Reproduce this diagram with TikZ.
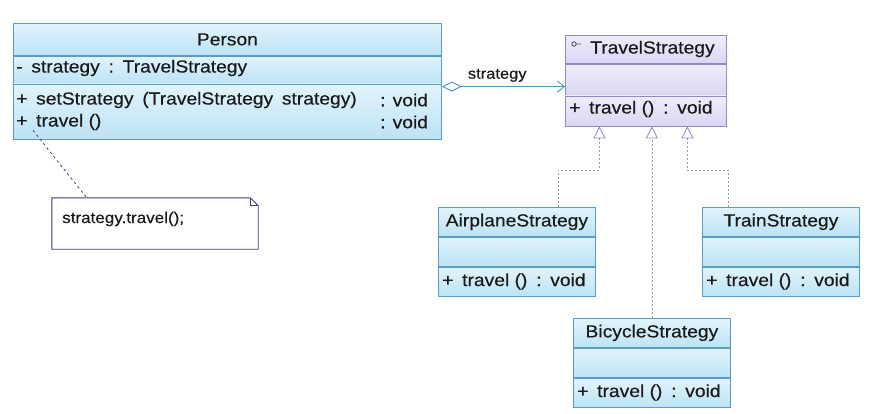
\documentclass[tikz,border=0pt]{standalone}
\usepackage{fontspec}
\setmainfont{Liberation Sans}[FakeStretch=1.1,FakeBold=0.4]
\usepackage{xcolor}
\usepackage{tikz}
\usetikzlibrary{positioning,arrows.meta}

\definecolor{clsedge}{HTML}{5A9CC5}
\definecolor{clstop}{HTML}{E2F4FC}
\definecolor{clsbot}{HTML}{BCE3F5}
\definecolor{ifedge}{HTML}{8E8AC6}
\definecolor{iftop}{HTML}{EEEDFB}
\definecolor{ifbot}{HTML}{DAD6F3}
\definecolor{noteedge}{HTML}{3E3C78}
\definecolor{aggline}{HTML}{4A95C8}
\definecolor{realline}{HTML}{9C9C9C}
\definecolor{txtgray}{HTML}{1A1A1A}

\begin{document}
\begin{tikzpicture}[x=1pt,y=-1pt,font=\fontsize{17.5}{20}\selectfont,text=txtgray,
    comp/.style={draw=clsedge,line width=.8pt,top color=clstop,bottom color=clsbot,
      inner sep=0pt,anchor=north west},
    icomp/.style={comp,draw=ifedge,top color=iftop,bottom color=ifbot},
    txt/.style={inner sep=0pt,anchor=west},
    realize/.style={realline,line width=.8pt,dash pattern=on 2pt off 2pt,
      -{Triangle[open,length=12pt,width=12pt,color=ifedge,fill=white,line width=.8pt]}},
  ]
  \useasboundingbox[fill=white] (0,0) rectangle (874,414);

  % Person
  \node[comp,minimum width=428pt,minimum height=32pt] (person-head) at (13,23) {};
  \node[comp,minimum width=428pt,minimum height=27pt] (person-attr) at (person-head.south west) {};
  \node[comp,minimum width=428pt,minimum height=55pt] (person-ops) at (person-attr.south west) {};
  \node (person-name) at (person-head) {Person};
  \node[txt] (person-a1) at (16,68) {-\enspace strategy\enspace :\enspace TravelStrategy};
  \node[txt] (person-o1) at (16,100) {+\enspace setStrategy\enspace(TravelStrategy\enspace strategy)};
  \node[txt] (person-o2) at (16,122) {+\enspace travel ()};
  \node[txt] (person-r1) at (380,100) {: void};
  \node[txt] (person-r2) at (380,122) {: void};

  % TravelStrategy
  \node[icomp,minimum width=161pt,minimum height=28pt] (travel-head) at (565,35) {};
  \node[icomp,minimum width=161pt,minimum height=31pt] (travel-attr) at (travel-head.south west) {};
  \node[icomp,minimum width=161pt,minimum height=30pt] (travel-ops) at (travel-attr.south west) {};
  \node[txt] (travel-name) at (590,49) {TravelStrategy};
  \draw[black!70,line width=.8pt] (574,44) circle (2.2pt) (576.2,44) -- (581,44);
  \node[txt] (travel-o1) at (569,109) {+\enspace travel ()\enspace:\enspace void};

  % concrete strategies
  \foreach \nm/\x/\y/\lab in {airplane/438/207/AirplaneStrategy,train/702/207/TrainStrategy,bicycle/573/318/BicycleStrategy}{
    \node[comp,minimum width=157pt,minimum height=29pt] (\nm-head) at (\x,\y) {};
    \node[comp,minimum width=157pt,minimum height=29pt] (\nm-attr) at (\nm-head.south west) {};
    \node[comp,minimum width=157pt,minimum height=29pt] (\nm-ops) at (\nm-attr.south west) {};
    \node (\nm-name) at (\nm-head) {\lab};
    \node[txt] (\nm-o1) at ([xshift=4pt]\nm-ops.west) {+\enspace travel ()\enspace:\enspace void};
  }

  % aggregation
  \coordinate (agg) at ([yshift=-3pt]person-ops.north east);
  \draw[aggline,line width=.9pt,{Diamond[open,length=20pt,width=10pt,fill=white]}-{Straight Barb[length=7pt,width=11pt]}]
    (agg) -- node[pos=.45,above=1pt,text=txtgray,font=\fontsize{15}{18}\selectfont] (agg-lab) {strategy} (agg -| travel-attr.west);

  % realizations
  \coordinate (tipA) at ([xshift=-46.5pt]travel-ops.south);
  \coordinate (tipC) at ([xshift=41.5pt]travel-ops.south);
  \draw[realize] ([xshift=41.5pt]airplane-head.north) -- ++(0,-37) -| (tipA);
  \draw[realize] (bicycle-head.north) -- (bicycle-head.north |- travel-ops.south);
  \draw[realize] ([xshift=-52.5pt]train-head.north) -- ++(0,-37) -| (tipC);

  % note
  \node[minimum width=206pt,minimum height=51pt,inner sep=0pt] (note) at (155,223.5) {};
  \node[txt,font=\fontsize{15.5}{18}\selectfont] (note-txt) at (62,219) {strategy.travel();};
  \draw[noteedge,line width=.9pt] (note.south west) -- (note.north west) -- ([xshift=-8pt]note.north east)
    -- ([yshift=-8pt]note.north east) -- (note.south east) -- cycle;
  \draw[noteedge,line width=.9pt] ([xshift=-8pt]note.north east) |- ([yshift=-8pt]note.north east);
  \draw[noteedge,line width=.8pt,dash pattern=on 2.5pt off 3pt] ([xshift=20pt,yshift=9pt]person-ops.south west) -- ([xshift=35pt]note.north west);
\end{tikzpicture}
\end{document}
